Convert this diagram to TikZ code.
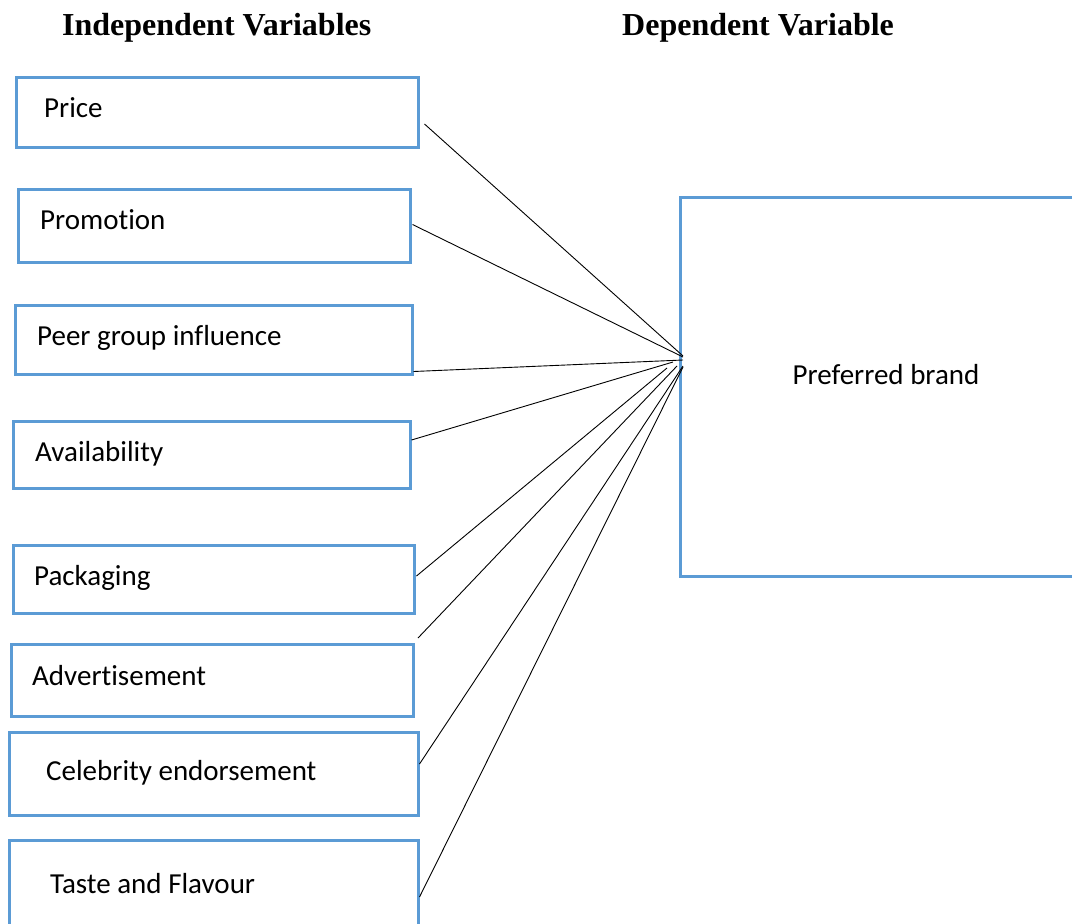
\documentclass[tikz,border=0pt]{standalone}
\usepackage{fontspec}
\setmainfont{Liberation Serif}
\newfontfamily\calibri[Ligatures=NoCommon]{Carlito}
\definecolor{boxblue}{HTML}{5B9BD5}
\begin{document}
\begin{tikzpicture}[x=1pt,y=-1pt,
  vbox/.style={draw=boxblue,line width=3pt,inner sep=0pt,rectangle},
  lbl/.style={font=\calibri\fontsize{29}{34}\selectfont,inner sep=0pt,anchor=base west},
  hdr/.style={font=\bfseries\fontsize{32}{36}\selectfont,inner sep=0pt,anchor=base west},
  link/.style={black,line width=0.9pt}]
\fill[white] (0,0) rectangle (1072,924);
\useasboundingbox (0,0) rectangle (1072,924);
\clip (0,0) rectangle (1072,924);
% headers
\node[hdr] (hind) at (62,35) {Independent Variables};
\node[hdr] (hdep) at (622,35) {Dependent Variable};
% boxes
\node[vbox,minimum width=402pt,minimum height=70pt] (price) at (217,112) {};
\node[vbox,minimum width=392pt,minimum height=73pt] (promo) at (214,225.5) {};
\node[vbox,minimum width=397pt,minimum height=69pt] (peer) at (213.5,339.5) {};
\node[vbox,minimum width=397pt,minimum height=67pt] (avail) at (211.5,454.5) {};
\node[vbox,minimum width=401pt,minimum height=68pt] (pack) at (213.5,579) {};
\node[vbox,minimum width=402pt,minimum height=72pt] (advert) at (212,680) {};
\node[vbox,minimum width=409pt,minimum height=83pt] (celeb) at (213.5,773.5) {};
\node[vbox,minimum width=409pt,minimum height=90pt] (taste) at (213.5,885) {};
\node[vbox,minimum width=400pt,minimum height=379pt] (brand) at (880,386.5) {};
% texts
\node[lbl] (tprice) at (44,117) {Price};
\node[lbl] (tpromo) at (40,229) {Promotion};
\node[lbl] (tpeer) at (37,345) {Peer group influence};
\node[lbl] (tavail) at (35,461) {Availability};
\node[lbl] (tpack) at (34,585) {Packaging};
\node[lbl] (tadvert) at (32,685) {Advertisement};
\node[lbl] (tceleb) at (46,780) {Celebrity endorsement};
\node[lbl] (ttaste) at (50,893) {Taste and Flavour};
\node[lbl,anchor=base] (tbrand) at (886,384) {Preferred brand};
% hub points
\coordinate (hA) at (683,356);
\coordinate (hB) at (683,357);
\coordinate (hC) at (683,360);
\coordinate (hD) at (673,362);
\coordinate (hE) at (667,368);
\coordinate (hF) at (677,366);
\coordinate (hG) at (683,366);
\coordinate (hH) at (683,367);
\coordinate (advfree) at (418,638);
% connectors
\draw[link] ([xshift=5pt,yshift=-12pt]price.east) -- (hA);
\draw[link] ([xshift=1pt,yshift=1pt]promo.east) -- (hB);
\draw[link] ([yshift=4pt]peer.south east) -- (hC);
\draw[link] ([yshift=14.5pt]avail.east) -- (hD);
\draw[link] ([xshift=1pt,yshift=3pt]pack.east) -- (hE);
\draw[link] (advfree) -- (hF);
\draw[link] ([yshift=9.5pt]celeb.east) -- (hG);
\draw[link] ([yshift=-12pt]taste.east) -- (hH);
\end{tikzpicture}
\end{document}
